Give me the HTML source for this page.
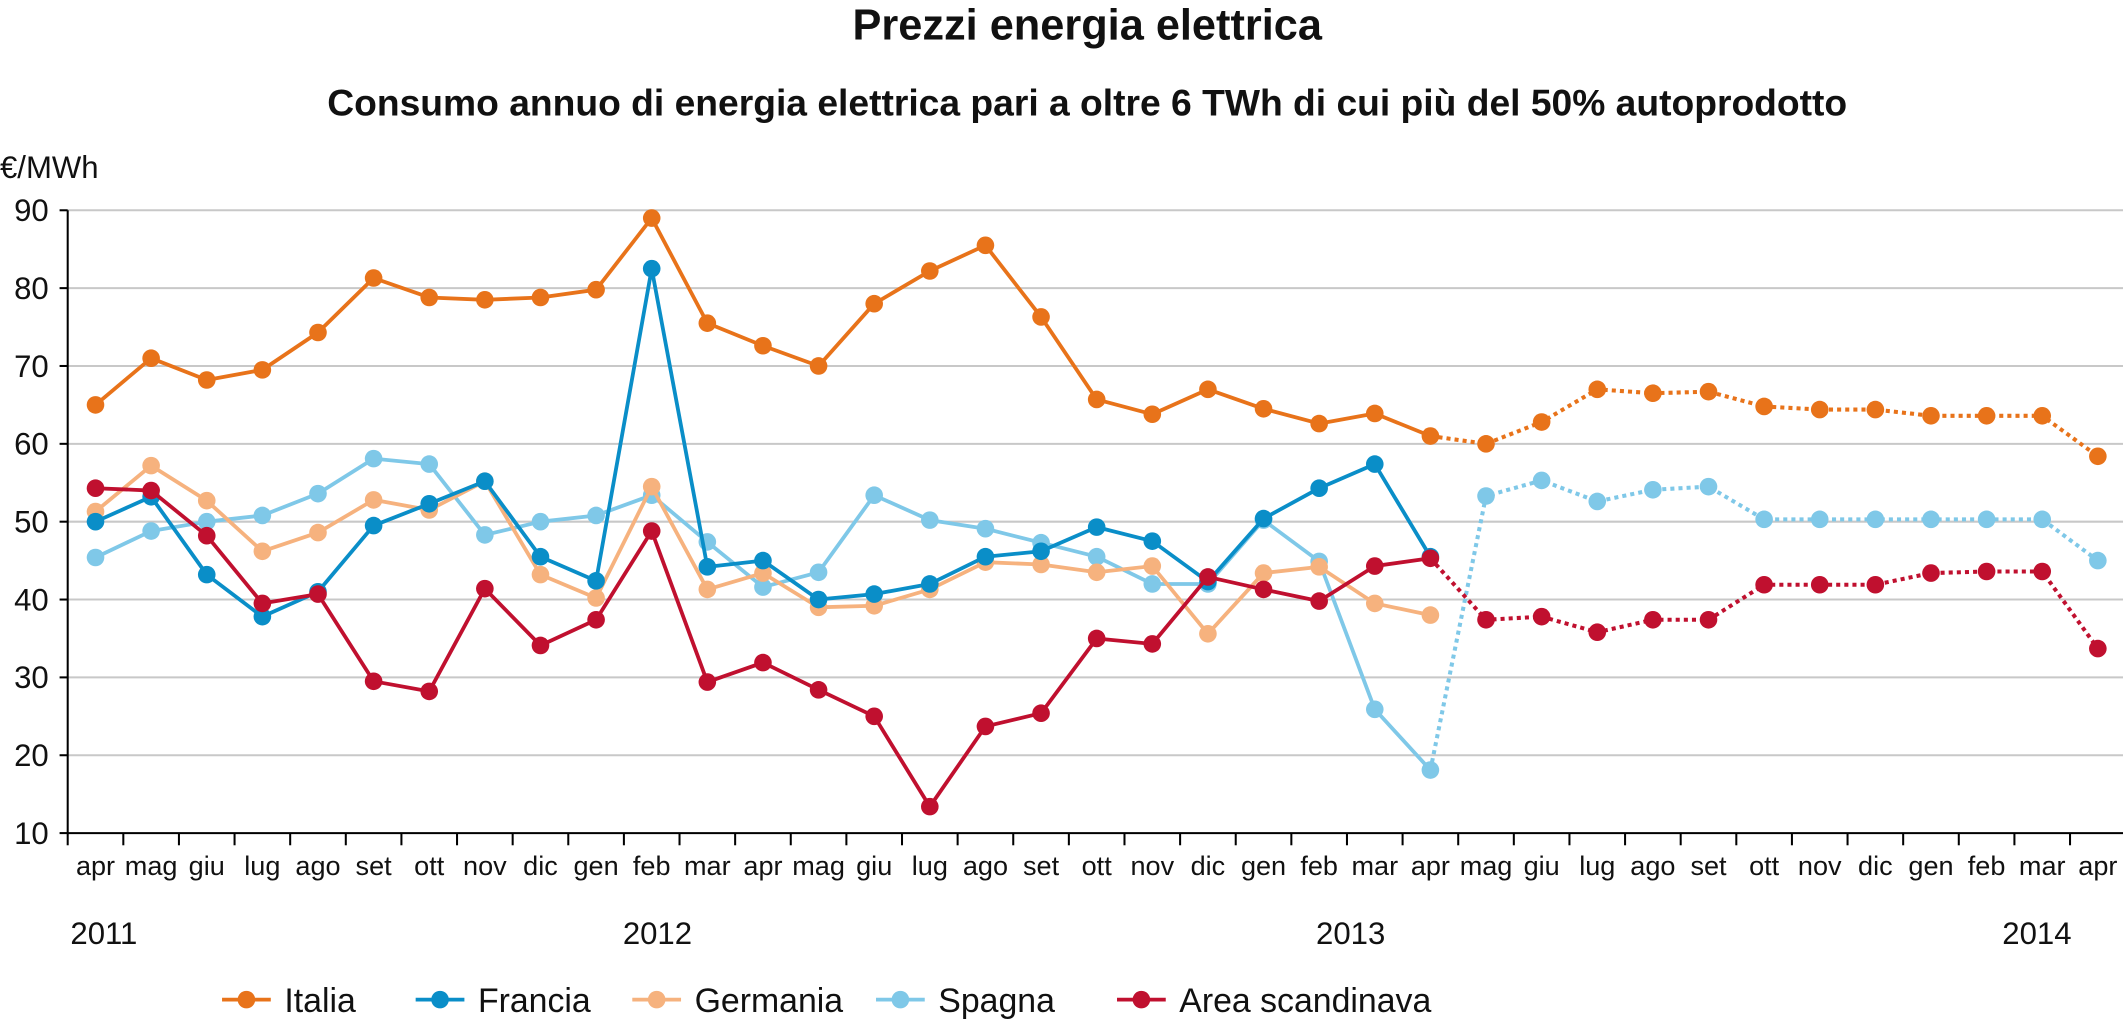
<!DOCTYPE html>
<html><head><meta charset="utf-8"><style>
html,body{margin:0;padding:0;background:#fff}
svg{display:block}
text{font-family:"Liberation Sans Narrow","Liberation Sans",sans-serif;fill:#111}
</style></head><body>
<svg id="s" width="2123" height="1019" viewBox="0 0 1568 752" xmlns="http://www.w3.org/2000/svg">
<text x="803" y="29" text-anchor="middle" font-size="32" font-weight="bold">Prezzi energia elettrica</text>
<text x="803" y="85" text-anchor="middle" font-size="27.5" font-weight="bold">Consumo annuo di energia elettrica pari a oltre 6 TWh di cui più del 50% autoprodotto</text>
<text x="0" y="131" font-size="23">€/MWh</text>
<g id="g"></g>
</svg>
<script>
const g=document.getElementById('g');const NS='http://www.w3.org/2000/svg';
function el(t,a,txt){const e=document.createElementNS(NS,t);for(const k in a)e.setAttribute(k,a[k]);if(txt!=null)e.textContent=txt;g.appendChild(e);return e;}
const X0=50,DX=41.08;const px=i=>X0+(i+0.5)*DX;const py=v=>155+(90-v)*5.75;
for(let v=20;v<=90;v+=10)el('line',{x1:50,x2:1568,y1:py(v),y2:py(v),stroke:'#c8c8c8','stroke-width':1.5});
el('line',{x1:50,x2:50,y1:155,y2:615,stroke:'#000','stroke-width':1.5});
el('line',{x1:50,x2:1568,y1:615,y2:615,stroke:'#000','stroke-width':1.5});
for(let v=10;v<=90;v+=10){el('text',{x:36,y:py(v)+8,'text-anchor':'end','font-size':23},v);el('line',{x1:44,x2:50,y1:py(v),y2:py(v),stroke:'#000','stroke-width':1.5});}
const m=['apr','mag','giu','lug','ago','set','ott','nov','dic','gen','feb','mar'];
for(let i=0;i<37;i++){el('text',{x:px(i),y:646,'text-anchor':'middle','font-size':20},m[i%12]);}
for(let k=0;k<=37;k++){el('line',{x1:X0+k*DX,x2:X0+k*DX,y1:615,y2:624,stroke:'#000','stroke-width':1.5});}
[['2011',52,'start'],['2012',460,'start'],['2013',972,'start'],['2014',1530,'end']].forEach(y=>el('text',{x:y[1],y:697,'text-anchor':y[2],'font-size':23},y[0]));
const S=[
['#e8731a',[65,71,68.2,69.5,74.3,81.3,78.8,78.5,78.8,79.8,89,75.5,72.6,70,78,82.2,85.5,76.3,65.7,63.8,67,64.5,62.6,63.9,61],[61,60,62.8,67,66.5,66.7,64.8,64.4,64.4,63.6,63.6,63.6,58.4]],
['#7fc8e8',[45.4,48.8,50,50.8,53.6,58.1,57.4,48.3,50,50.8,53.4,47.4,41.6,43.5,53.4,50.2,49.1,47.3,45.5,42,42,50.2,44.9,25.9,18.1],[18.1,53.3,55.3,52.6,54.1,54.5,50.3,50.3,50.3,50.3,50.3,50.3,45]],
['#f6b27e',[51.3,57.2,52.7,46.2,48.6,52.8,51.5,55.2,43.2,40.2,54.5,41.3,43.4,39,39.2,41.3,44.8,44.5,43.5,44.3,35.6,43.4,44.2,39.5,38],null],
['#0a8ec8',[50,53.2,43.2,37.8,41,49.5,52.3,55.2,45.5,42.4,82.5,44.2,45,40,40.7,42,45.5,46.2,49.3,47.5,42.3,50.4,54.3,57.4,45.5],null],
['#c0102f',[54.3,54,48.2,39.5,40.7,29.5,28.2,41.4,34.1,37.4,48.8,29.4,31.9,28.4,25,13.4,23.7,25.4,35,34.3,42.9,41.3,39.8,44.3,45.3],[45.3,37.4,37.8,35.8,37.4,37.4,41.9,41.9,41.9,43.4,43.6,43.6,33.7]]];
S.forEach(([c,a,b])=>{
 el('polyline',{points:a.map((v,i)=>px(i)+','+py(v)).join(' '),fill:'none',stroke:c,'stroke-width':2.8,'stroke-linejoin':'round'});
 if(b)el('polyline',{points:b.map((v,i)=>px(i+24)+','+py(v)).join(' '),fill:'none',stroke:c,'stroke-width':3,'stroke-dasharray':'3 3'});
 a.forEach((v,i)=>el('circle',{cx:px(i),cy:py(v),r:6.5,fill:c}));
 if(b)b.forEach((v,i)=>{if(i>0)el('circle',{cx:px(i+24),cy:py(v),r:6.5,fill:c});});
});
[['#e8731a','Italia',182],['#0a8ec8','Francia',325],['#f6b27e','Germania',485],['#7fc8e8','Spagna',665],['#c0102f','Area scandinava',843]].forEach(([c,t,x])=>{
 el('line',{x1:x-18,x2:x+18,y1:738,y2:738,stroke:c,'stroke-width':2.8});
 el('circle',{cx:x,cy:738,r:6.5,fill:c});
 el('text',{x:x+28,y:747,'font-size':25},t);
});
</script>
</body></html>
